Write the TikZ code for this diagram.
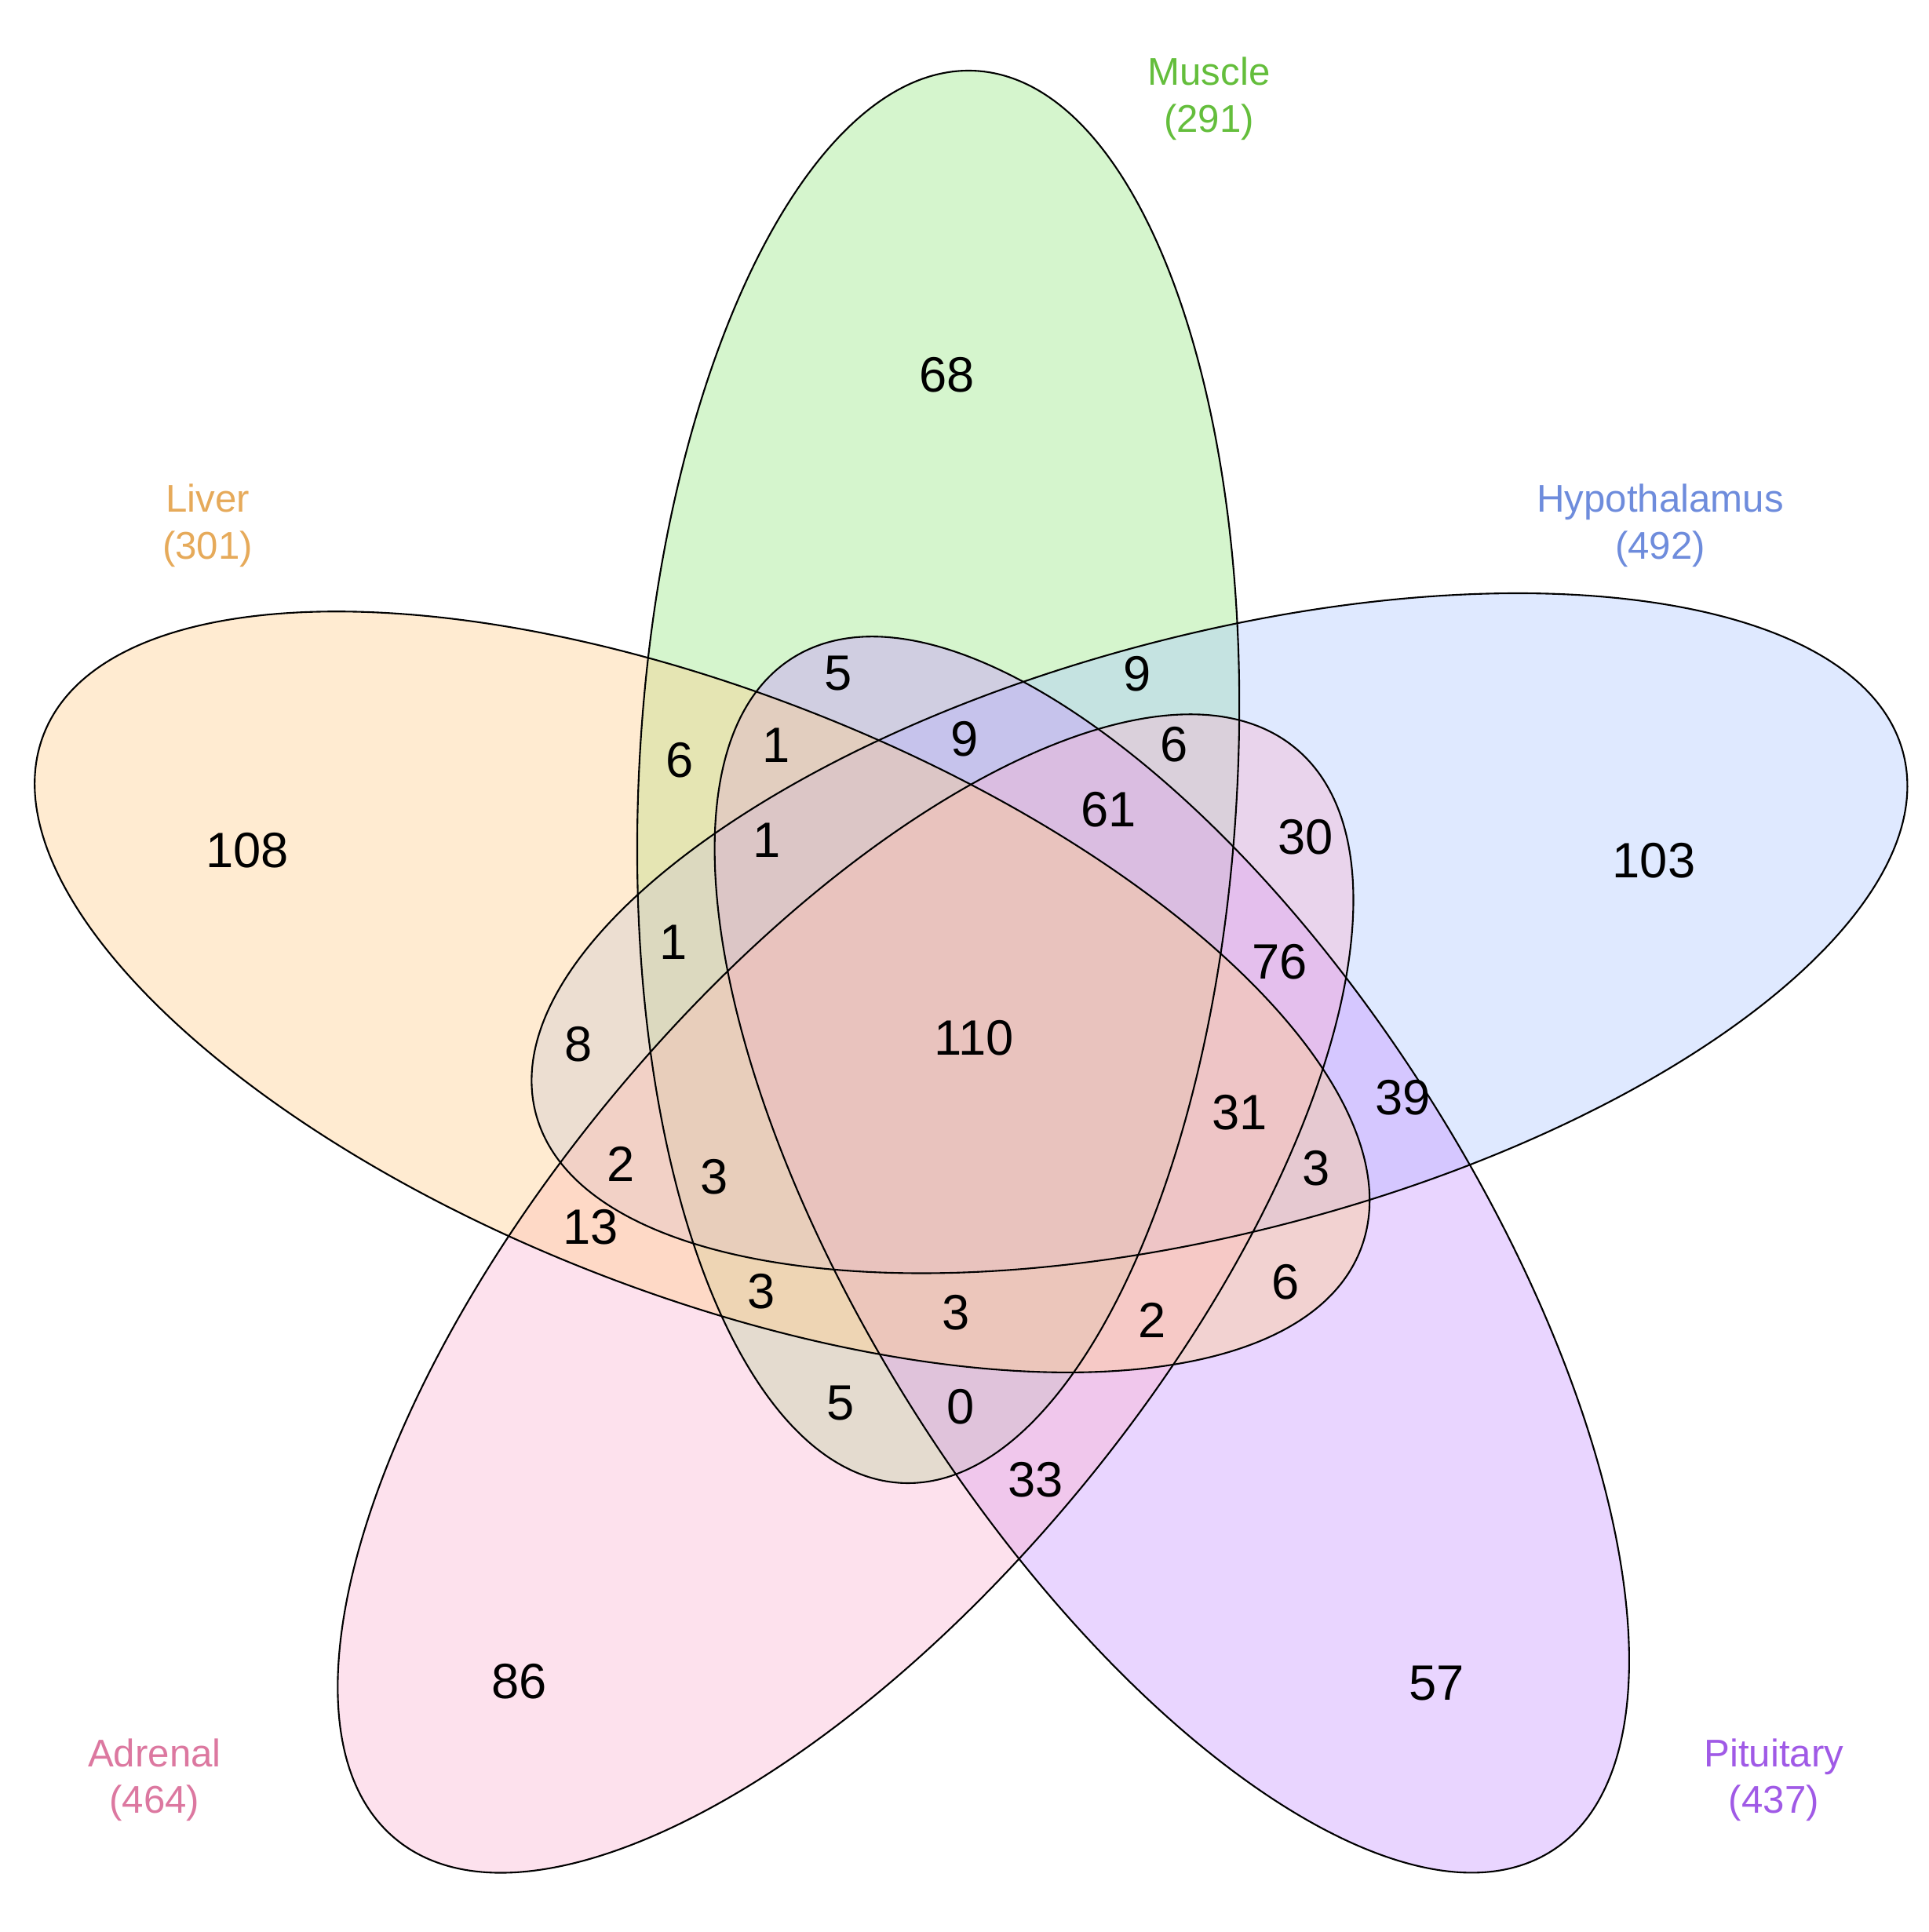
\documentclass[tikz,border=0pt]{standalone}
\usepackage{fontspec}
\setmainfont{Liberation Sans}
\definecolor{cLiv}{RGB}{255,205,140}
\definecolor{cMus}{RGB}{150,230,130}
\definecolor{cHyp}{RGB}{175,200,255}
\definecolor{cPit}{RGB}{200,150,255}
\definecolor{cAdr}{RGB}{250,180,210}
\definecolor{tLiv}{RGB}{230,170,90}
\definecolor{tMus}{RGB}{100,190,60}
\definecolor{tHyp}{RGB}{110,140,220}
\definecolor{tPit}{RGB}{160,90,230}
\definecolor{tAdr}{RGB}{220,120,160}
\begin{document}
\begin{tikzpicture}[x=0.01575cm,y=0.01575cm,
  num/.style={font=\fontsize{18}{20}\selectfont},
  lab/.style={font=\fontsize{14}{17}\selectfont,align=center},
  ell/.style={fill opacity=0.4,draw opacity=1}]
\useasboundingbox (0,0) rectangle (1560,1563);
\foreach \cx/\cy/\a/\b/\c in {759/934.5/87/242/cMus,986.5/808/14.8/241/cHyp,948/548/-57.5/244/cPit,684/516.5/50.5/247/cAdr,568/760.5/-21.4/243/cLiv}{
  \path[fill=\c,ell,shift={(\cx,\cy)},rotate=\a] (0,0) ellipse [x radius=572,y radius=\b];
}
\foreach \cx/\cy/\a/\b in {759/934.5/87/242,986.5/808/14.8/241,948/548/-57.5/244,684/516.5/50.5/247,568/760.5/-21.4/243}{
  \draw[black,line width=0.6pt,shift={(\cx,\cy)},rotate=\a] (0,0) ellipse [x radius=572,y radius=\b];
}
\node[num] (n1) at (766,1260) {68};
\node[num] (n2) at (200,875) {108};
\node[num] (n3) at (1338,867) {103};
\node[num] (n4) at (420,203) {86};
\node[num] (n5) at (1162,201) {57};
\node[num] (n6) at (678,1018) {5};
\node[num] (n7) at (920,1018) {9};
\node[num] (n8) at (550,948) {6};
\node[num] (n9) at (628,960) {1};
\node[num] (n10) at (780,965) {9};
\node[num] (n11) at (950,961) {6};
\node[num] (n12) at (897,908) {61};
\node[num] (n13) at (1056,886) {30};
\node[num] (n14) at (620,883) {1};
\node[num] (n15) at (545,801) {1};
\node[num] (n16) at (1035,785) {76};
\node[num] (n17) at (468,718) {8};
\node[num] (n18) at (788,723) {110};
\node[num] (n19) at (1135,675) {39};
\node[num] (n20) at (1003,663) {31};
\node[num] (n21) at (502,621) {2};
\node[num] (n22) at (578,611) {3};
\node[num] (n23) at (1065,618) {3};
\node[num] (n24) at (478,570) {13};
\node[num] (n25) at (1040,526) {6};
\node[num] (n26) at (616,518) {3};
\node[num] (n27) at (773,501) {3};
\node[num] (n28) at (932,495) {2};
\node[num] (n29) at (680,428) {5};
\node[num] (n30) at (777,425) {0};
\node[num] (n31) at (838,366) {33};
\node[lab,text=tMus] (lm) at (978,1483) {Muscle\\(291)};
\node[lab,text=tLiv] (ll) at (168,1138) {Liver\\(301)};
\node[lab,text=tHyp] (lh) at (1343,1138) {Hypothalamus\\(492)};
\node[lab,text=tAdr] (la) at (125,123) {Adrenal\\(464)};
\node[lab,text=tPit] (lp) at (1435,123) {Pituitary\\(437)};
\end{tikzpicture}
\end{document}
